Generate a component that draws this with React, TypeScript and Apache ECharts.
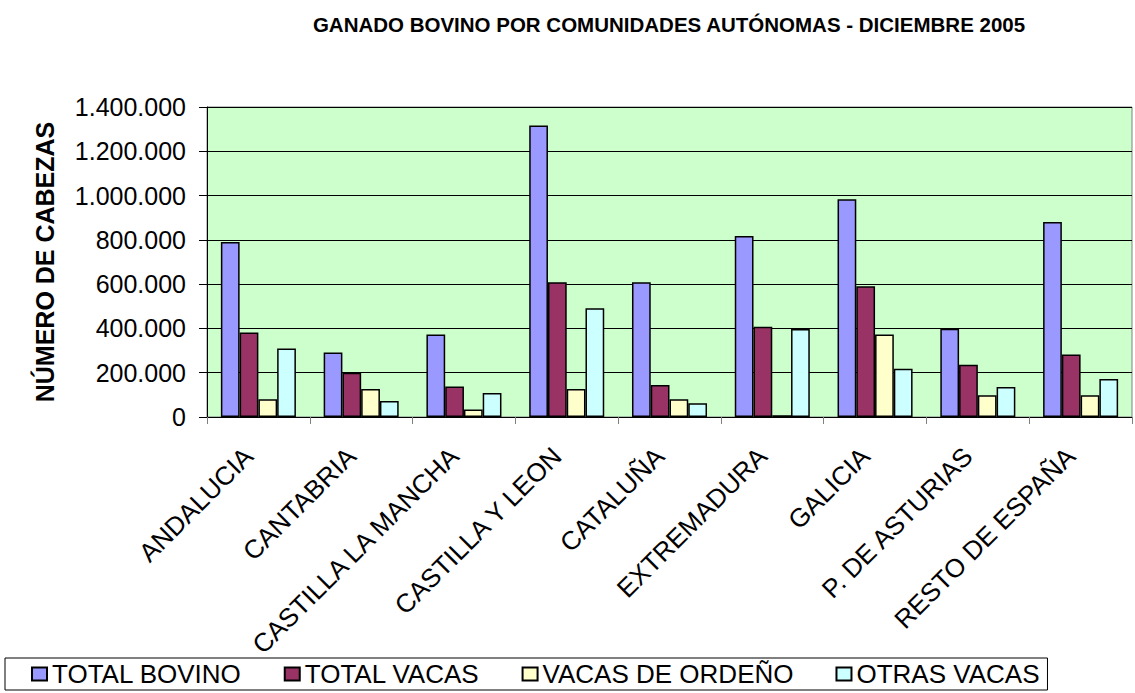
import React, { useEffect, useRef } from "react";
import * as echarts from "echarts";

const categories = [
  "ANDALUCIA",
  "CANTABRIA",
  "CASTILLA LA MANCHA",
  "CASTILLA Y LEON",
  "CATALUÑA",
  "EXTREMADURA",
  "GALICIA",
  "P. DE ASTURIAS",
  "RESTO DE ESPAÑA",
];
const totalBovino = [790000, 291000, 373000, 1317000, 609000, 817000, 983000, 398000, 881000];
const totalVacas = [382000, 200000, 138000, 609000, 145000, 408000, 591000, 236000, 282000];
const vacasOrdeno = [80000, 126000, 34000, 126000, 80000, 8000, 373000, 98000, 98000];
const otrasVacas = [309000, 72000, 108000, 491000, 62000, 397000, 218000, 135000, 172000];
const yTicks = [0, 200000, 400000, 600000, 800000, 1000000, 1200000, 1400000];

const seriesNames = ["TOTAL BOVINO", "TOTAL VACAS", "VACAS DE ORDEÑO", "OTRAS VACAS"];
const seriesData = [totalBovino, totalVacas, vacasOrdeno, otrasVacas];
const colors = ["#9999FF", "#993366", "#FFFFCC", "#CCFFFF"];

const fmt = (v: number) => String(v).replace(/\B(?=(\d{3})+(?!\d))/g, ".");

export default function App() {
  const ref = useRef<HTMLDivElement>(null);
  useEffect(() => {
    document.body.style.margin = "0";
    const chart = echarts.init(ref.current!, null, { renderer: "svg" });
    chart.setOption({
      animation: false,
      backgroundColor: "#FFFFFF",
      title: {
        text: "GANADO BOVINO POR COMUNIDADES AUTÓNOMAS - DICIEMBRE 2005",
        left: 664,
        top: 9,
        textAlign: "center",
        textStyle: {
          fontFamily: "Liberation Sans, Arial",
          fontWeight: "bold",
          fontSize: 20.5,
          color: "#000",
        },
      },
      legend: {
        data: seriesNames,
        left: 5,
        top: 658,
        orient: "horizontal",
        borderColor: "#000",
        borderWidth: 1,
        padding: [3, 8, 3, 26],
        itemWidth: 15,
        itemHeight: 13,
        itemGap: 42,
        icon: "rect",
        textStyle: {
          fontFamily: "Liberation Sans, Arial",
          fontSize: 26,
          color: "#000",
        },
      },
      grid: {
        left: 207,
        right: 3,
        top: 107,
        bottom: 276,
        show: true,
        backgroundColor: "#CCFFCC",
        borderColor: "#808080",
        borderWidth: 1,
        containLabel: false,
      },
      xAxis: {
        type: "category",
        data: categories,
        axisLine: { show: true, lineStyle: { color: "#000", width: 1 } },
        axisTick: { show: true, length: 7, alignWithLabel: false, lineStyle: { color: "#808080" } },
        axisLabel: {
          rotate: 45,
          margin: 25,
          interval: 0,
          padding: [0, 14, 0, 0],
          fontFamily: "Liberation Sans, Arial",
          fontSize: 26,
          color: "#000",
        },
        splitLine: { show: false },
      },
      yAxis: {
        type: "value",
        min: 0,
        max: 1400000,
        interval: 200000,
        name: "NÚMERO DE CABEZAS",
        nameLocation: "middle",
        nameGap: 150,
        nameRotate: 90,
        nameTextStyle: {
          fontFamily: "Liberation Sans, Arial",
          fontWeight: "bold",
          fontSize: 25,
          color: "#000",
        },
        axisLine: { show: true, lineStyle: { color: "#000", width: 1 } },
        axisTick: { show: true, length: 8, lineStyle: { color: "#000" } },
        axisLabel: {
          margin: 21,
          fontFamily: "Liberation Sans, Arial",
          fontSize: 25,
          color: "#000",
          formatter: (v: number) => (yTicks.includes(v) ? fmt(v) : ""),
        },
        splitLine: { show: true, lineStyle: { color: "#000", width: 1 } },
      },
      series: seriesNames.map((name, i) => ({
        name,
        type: "bar",
        data: seriesData[i],
        barGap: "0%",
        barCategoryGap: "27%",
        itemStyle: { color: colors[i], borderColor: "#000", borderWidth: 1.5 },
      })),
    });
    return () => chart.dispose();
  }, []);
  return <div ref={ref} style={{ width: 1135, height: 693 }} />;
}
